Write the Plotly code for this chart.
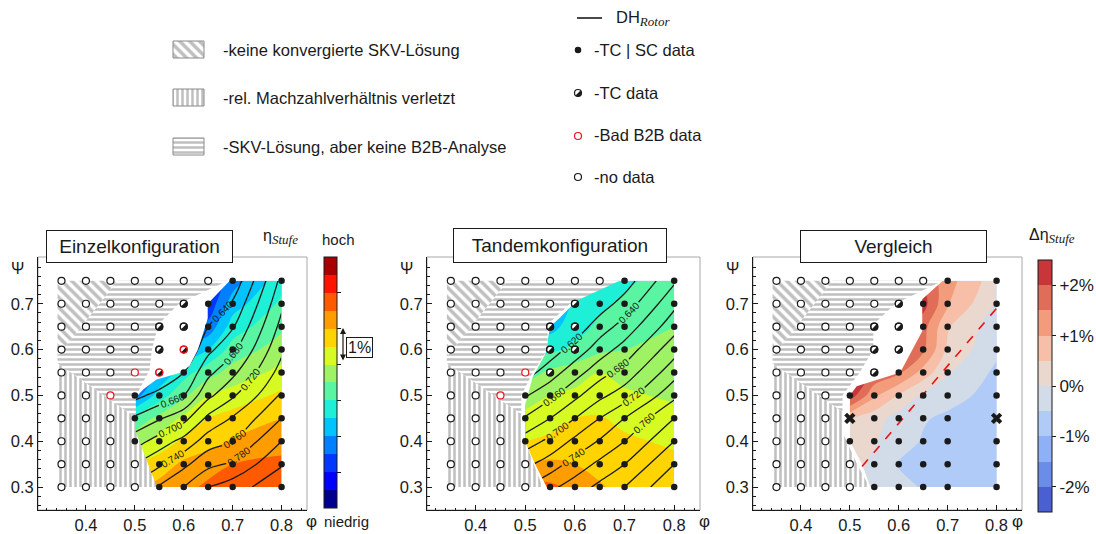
import math
import plotly.graph_objects as go

W, H = 1096, 534
FONT = "Liberation Sans, Arial, sans-serif"
INK = "#1a1a1a"
SUBSTYLE = "font-family:Liberation Serif;font-size:13px"

# ---------------- data ----------------
phi_pts = [0.35, 0.40, 0.45, 0.50, 0.55, 0.60, 0.65, 0.70, 0.80]
psi_pts = [0.75, 0.70, 0.65, 0.60, 0.55, 0.50, 0.45, 0.40, 0.35, 0.30]

# o = no data, r = bad B2B data, h = TC data, R = TC data + bad B2B, f = TC | SC data, x = marked
status_einzel = [
    "o o o o o o o f f",
    "o o o o o h f f f",
    "o o o o h h f f f",
    "o o o o h R f f f",
    "o o o r R f f f f",
    "o o r f f f f f f",
    "o o o f f f f f f",
    "o o o f f f f f f",
    "o o o o f f f f f",
    "o o o o f f f f f",
]
status_tandem = [
    "o o o o o o o f f",
    "o o o o o h f f f",
    "o o o o h h f f f",
    "o o o o h h f f f",
    "o o o r h f f f f",
    "o o r f f f f f f",
    "o o o f f f f f f",
    "o o o f f f f f f",
    "o o o o f f f f f",
    "o o o o f f f f f",
]
status_vergleich = [
    "o o o o o o o f f",
    "o o o o o h f f f",
    "o o o o h h f f f",
    "o o o o h h f f f",
    "o o o o h f f f f",
    "o o o f f f f f f",
    "o o o x f f f f x",
    "o o o f f f f f f",
    "o o o o f f f f f",
    "o o o o f f f f f",
]

phi_field = [0.50, 0.55, 0.60, 0.65, 0.70, 0.80]
psi_field = [0.30, 0.35, 0.40, 0.45, 0.50, 0.55, 0.60, 0.65, 0.70, 0.75]

eta_einzel = [  # eta_Stufe in %
    [87.90, 88.15, 88.35, 88.60, 88.70, 88.75],
    [87.50, 87.75, 88.10, 88.30, 88.50, 88.65],
    [86.80, 87.20, 87.60, 87.80, 88.05, 88.25],
    [86.15, 86.65, 87.10, 87.50, 87.70, 88.00],
    [84.75, 85.75, 86.40, 87.00, 87.20, 87.60],
    [84.25, 85.00, 85.80, 86.30, 86.70, 87.15],
    [84.00, 84.50, 85.10, 85.50, 86.20, 86.75],
    [83.75, 84.00, 84.50, 84.65, 85.75, 86.40],
    [83.50, 83.75, 84.00, 84.15, 85.25, 86.10],
    [83.25, 83.50, 83.75, 84.00, 84.75, 85.80],
]
eta_tandem = [
    [88.70, 88.60, 88.40, 88.05, 87.85, 87.75],
    [88.00, 88.10, 88.00, 87.85, 87.75, 87.65],
    [87.50, 87.60, 87.70, 87.75, 87.60, 87.40],
    [87.15, 87.30, 87.50, 87.55, 87.35, 87.20],
    [86.75, 87.00, 87.10, 87.20, 87.10, 86.90],
    [86.25, 86.60, 86.80, 87.00, 86.80, 86.70],
    [85.75, 85.90, 86.10, 86.40, 86.50, 86.65],
    [85.30, 85.30, 85.80, 86.10, 86.30, 86.50],
    [85.00, 85.00, 85.60, 85.90, 86.10, 86.40],
    [84.90, 85.00, 85.50, 85.70, 85.90, 86.25],
]
dh_einzel = [
    [0.745, 0.762, 0.780, 0.800, 0.810, 0.835],
    [0.720, 0.737, 0.755, 0.775, 0.783, 0.818],
    [0.691, 0.709, 0.727, 0.750, 0.760, 0.800],
    [0.663, 0.678, 0.693, 0.725, 0.742, 0.780],
    [0.634, 0.647, 0.660, 0.695, 0.717, 0.762],
    [0.600, 0.620, 0.640, 0.675, 0.695, 0.748],
    [0.570, 0.595, 0.620, 0.655, 0.675, 0.736],
    [0.540, 0.570, 0.600, 0.640, 0.658, 0.726],
    [0.510, 0.545, 0.580, 0.625, 0.642, 0.716],
    [0.480, 0.520, 0.560, 0.605, 0.625, 0.706],
]
dh_tandem = [
    [0.740, 0.755, 0.770, 0.785, 0.800, 0.838],
    [0.715, 0.730, 0.748, 0.765, 0.780, 0.820],
    [0.690, 0.705, 0.725, 0.742, 0.760, 0.800],
    [0.662, 0.680, 0.700, 0.720, 0.740, 0.780],
    [0.638, 0.655, 0.675, 0.695, 0.710, 0.755],
    [0.612, 0.630, 0.652, 0.672, 0.688, 0.732],
    [0.590, 0.610, 0.628, 0.650, 0.668, 0.712],
    [0.570, 0.590, 0.608, 0.630, 0.648, 0.692],
    [0.550, 0.570, 0.590, 0.610, 0.628, 0.675],
    [0.530, 0.550, 0.570, 0.590, 0.610, 0.657],
]
delta_eta = [  # Delta eta_Stufe in %
    [0.10, -0.20, -0.30, -0.55, -0.70, -0.80],
    [0.20, -0.10, -0.55, -0.60, -0.70, -0.80],
    [0.30, 0.05, -0.25, -0.55, -0.65, -0.80],
    [0.55, 0.20, -0.20, -0.45, -0.60, -0.80],
    [2.30, 1.10, 0.45, -0.10, -0.30, -0.70],
    [2.50, 1.95, 1.60, 0.80, 0.05, -0.60],
    [2.50, 2.30, 2.05, 1.60, 0.40, -0.40],
    [2.50, 2.30, 2.10, 1.70, 0.55, -0.30],
    [2.50, 2.40, 2.30, 2.20, 1.05, -0.05],
    [2.50, 2.30, 2.20, 1.95, 1.20, 0.20],
]

# outline of the evaluated (coloured) region per panel
field_phi_einzel = [0.543, 0.520, 0.500, 0.497, 0.497, 0.517, 0.544, 0.595, 0.612, 0.629, 0.649, 0.649, 0.694, 0.80, 0.80]
field_psi_einzel = [0.300, 0.350, 0.400, 0.440, 0.490, 0.513, 0.535, 0.550, 0.565, 0.600, 0.668, 0.700, 0.750, 0.75, 0.30]
field_phi_tandem = [0.543, 0.520, 0.499, 0.500, 0.515, 0.540, 0.550, 0.570, 0.616, 0.687, 0.80, 0.80]
field_psi_tandem = [0.300, 0.350, 0.400, 0.480, 0.540, 0.590, 0.650, 0.670, 0.720, 0.750, 0.75, 0.30]
field_phi_vergleich = [0.542, 0.525, 0.500, 0.500, 0.514, 0.603, 0.648, 0.648, 0.690, 0.80, 0.80]
field_psi_vergleich = [0.300, 0.350, 0.400, 0.500, 0.520, 0.550, 0.640, 0.710, 0.750, 0.75, 0.30]

# right-hand boundary of the hatched regions (top -> bottom)
hatch_phi_einzel = [0.69, 0.59, 0.548, 0.535, 0.530, 0.510, 0.502, 0.502, 0.545]
hatch_psi_einzel = [0.75, 0.70, 0.655, 0.600, 0.555, 0.515, 0.490, 0.420, 0.300]
hatch_phi_tandem = [0.69, 0.59, 0.545, 0.545, 0.515, 0.492, 0.492, 0.535]
hatch_psi_tandem = [0.75, 0.70, 0.655, 0.600, 0.550, 0.500, 0.420, 0.300]
hatch_phi_vergleich = [0.69, 0.593, 0.548, 0.548, 0.520, 0.485, 0.485, 0.515, 0.540]
hatch_psi_vergleich = [0.75, 0.700, 0.655, 0.600, 0.550, 0.500, 0.420, 0.350, 0.300]
hatch_left, hatch_bottom, hatch_top = 0.342, 0.30, 0.75
miter_phi, miter_psi = [0.342, 0.51], [0.57, 0.446]   # vertical | horizontal stripes
diag_phi, diag_psi = [0.342, 0.465], [0.585, 0.75]     # horizontal | diagonal stripes

trend_phi, trend_psi = [0.525, 0.80], [0.345, 0.69]

eta_colors = ["#00008f", "#0000ff", "#0038ff", "#0080ff", "#00c4ff", "#1ef0d8", "#5af5a2",
              "#9ef264", "#d6fa22", "#ffd400", "#ff9c00", "#ff5a00", "#ff1400", "#a80000"]
deta_colors = ["#4a5fd0", "#6a8ee8", "#8db0f7", "#b0cbf7", "#d2dbe8",
               "#ead8cf", "#f7bfa7", "#f29c7c", "#e06d57", "#c8363a"]
deta_ticks = [-2, -1, 0, 1, 2]
deta_ticktext = ["-2%", "-1%", "0%", "+1%", "+2%"]

# ---------------- layout geometry ----------------
X_RANGE = [0.302, 0.852]
Y_RANGE = [0.25, 0.802]
panel_px = [(38, 307), (427, 700), (753, 1022)]
PLOT_TOP, PLOT_BOT = 257, 510


def xp(px):
    return px / W


def yp(py):
    return 1 - py / H


def clip(poly, a, b, c):
    out = []
    n = len(poly)
    for i in range(n):
        p, q = poly[i], poly[(i + 1) % n]
        fp = a * p[0] + b * p[1] - c
        fq = a * q[0] + b * q[1] - c
        if fp <= 0:
            out.append(p)
        if (fp <= 0) != (fq <= 0):
            t = fp / (fp - fq)
            out.append((p[0] + t * (q[0] - p[0]), p[1] + t * (q[1] - p[1])))
    return out


def closed(poly):
    xs = [p[0] for p in poly] + [poly[0][0]]
    ys = [p[1] for p in poly] + [poly[0][1]]
    return xs, ys


def points(status, codes):
    xs, ys = [], []
    for r, row in enumerate(status):
        for c, code in enumerate(row.split()):
            if code in codes:
                xs.append(phi_pts[c])
                ys.append(psi_pts[r])
    return xs, ys


def half_discs(xs, ys, rx, ry, ydown=False):
    px, py = [], []
    for cx, cy in zip(xs, ys):
        for k in range(19):
            a = math.radians(45 - 10 * k)
            px.append(cx + rx * math.cos(a))
            py.append(cy + (-1 if ydown else 1) * ry * math.sin(a))
        px.append(None)
        py.append(None)
    return px, py


def label(x, y, text, size=16, **kw):
    d = dict(x=xp(x), y=yp(y), xref="paper", yref="paper", text=text, showarrow=False,
             xanchor="center", yanchor="middle", font=dict(size=size, family=FONT, color=INK))
    d.update(kw)
    return d


fig = go.Figure()
layout_axes = {}
shapes = []
annotations = []

panels = [
    dict(status=status_einzel, eta=eta_einzel, dh=dh_einzel,
         fphi=field_phi_einzel, fpsi=field_psi_einzel,
         hphi=hatch_phi_einzel, hpsi=hatch_psi_einzel, title="Einzelkonfiguration"),
    dict(status=status_tandem, eta=eta_tandem, dh=dh_tandem,
         fphi=field_phi_tandem, fpsi=field_psi_tandem,
         hphi=hatch_phi_tandem, hpsi=hatch_psi_tandem, title="Tandemkonfiguration"),
    dict(status=status_vergleich, eta=None, dh=None,
         fphi=field_phi_vergleich, fpsi=field_psi_vergleich,
         hphi=hatch_phi_vergleich, hpsi=hatch_psi_vergleich, title="Vergleich"),
]

m1 = (miter_psi[1] - miter_psi[0]) / (miter_phi[1] - miter_phi[0])
c_m = miter_psi[0] - m1 * miter_phi[0]
m2 = (diag_psi[1] - diag_psi[0]) / (diag_phi[1] - diag_phi[0])
c_d = diag_psi[0] - m2 * diag_phi[0]

PAT = "#bfbfbf"


def hatch_trace(xs, ys, shape, size, xa, ya, line=None):
    return go.Scatter(x=xs, y=ys, mode="lines", fill="toself", xaxis=xa, yaxis=ya,
                      line=line or dict(width=0, color="rgba(0,0,0,0)"),
                      fillcolor="white",
                      fillpattern=dict(shape=shape, fgcolor=PAT, bgcolor="white",
                                       size=size, solidity=0.5, fillmode="replace"),
                      hoverinfo="skip", showlegend=False)


for i, P in enumerate(panels):
    n = "" if i == 0 else str(i + 1)
    xa, ya = "x" + n, "y" + n
    x0, x1 = panel_px[i]
    rx = 3.6 * (X_RANGE[1] - X_RANGE[0]) / (x1 - x0)
    ry = 3.6 * (Y_RANGE[1] - Y_RANGE[0]) / (PLOT_BOT - PLOT_TOP)
    tick = dict(ticks="inside", ticklen=5, tickcolor=INK, tickwidth=1,
                showline=True, linecolor=INK, linewidth=1, showgrid=False, zeroline=False,
                tickfont=dict(size=16.5, family=FONT, color=INK), fixedrange=True,
                minor=dict(dtick=0.02, ticks="inside", ticklen=2.5, tickcolor=INK, showgrid=False))
    layout_axes["xaxis" + n] = dict(domain=[xp(x0), xp(x1)], range=X_RANGE, anchor=ya,
                                    tickvals=[0.4, 0.5, 0.6, 0.7, 0.8],
                                    ticktext=["0.4", "0.5", "0.6", "0.7", "0.8"], **tick)
    layout_axes["yaxis" + n] = dict(domain=[yp(PLOT_BOT), yp(PLOT_TOP)], range=Y_RANGE, anchor=xa,
                                    tickvals=[0.3, 0.4, 0.5, 0.6, 0.7],
                                    ticktext=["0.3", "0.4", "0.5", "0.6", "0.7"], **tick)
    shapes.append(dict(type="rect", xref=xa + " domain", yref=ya + " domain", x0=0, x1=1, y0=0, y1=1,
                       line=dict(color="#a8a8a8", width=1), layer="below"))

    # filled contour field
    if P["eta"] is not None:
        fig.add_trace(go.Contour(
            x=phi_field, y=psi_field, z=P["eta"], autocontour=False, xaxis=xa, yaxis=ya,
            contours=dict(start=83.5, end=89.5, size=0.5, coloring="fill", showlines=False),
            colorscale=[[j / (len(eta_colors) - 1), c] for j, c in enumerate(eta_colors)],
            line=dict(width=0), showscale=False, hoverinfo="skip"))
        fig.add_trace(go.Contour(
            x=phi_field, y=psi_field, z=P["dh"], autocontour=False, xaxis=xa, yaxis=ya,
            contours=dict(start=0.62, end=0.84, size=0.02, coloring="none", showlabels=True,
                          labelfont=dict(size=10, family=FONT, color=INK), labelformat=".3f"),
            line=dict(color=INK, width=1.3), showscale=False, hoverinfo="skip"))
    else:
        fig.add_trace(go.Contour(
            x=phi_field, y=psi_field, z=delta_eta, autocontour=False, xaxis=xa, yaxis=ya,
            contours=dict(start=-2.0, end=2.0, size=0.5, coloring="fill", showlines=False),
            colorscale=[[j / (len(deta_colors) - 1), c] for j, c in enumerate(deta_colors)],
            line=dict(width=0), showscale=False, hoverinfo="skip"))

    # white mask outside the evaluated region
    outer = [(0.49, 0.29), (0.81, 0.29), (0.81, 0.76), (0.49, 0.76), (0.49, 0.29)]
    inner = list(zip(P["fphi"], P["fpsi"]))
    ring = outer + inner + [inner[0], outer[0]]
    fig.add_trace(go.Scatter(x=[p[0] for p in ring], y=[p[1] for p in ring], mode="lines",
                             fill="toself", fillcolor="white", line=dict(width=0, color="white"),
                             xaxis=xa, yaxis=ya, hoverinfo="skip", showlegend=False))

    # hatched regions
    outline = [(hatch_left, hatch_bottom)] + list(zip(P["hphi"], P["hpsi"]))[::-1] + [(hatch_left, hatch_top)]
    vert = clip(outline, -m1, 1, c_m)
    rest = clip(outline, m1, -1, -c_m)
    diag = clip(rest, m2, -1, -c_d)
    horiz = clip(rest, -m2, 1, c_d)
    for poly, shp, sz in ((vert, "|", 5), (horiz, "-", 5), (diag, "\\", 7)):
        if len(poly) >= 3:
            xs, ys = closed(poly)
            fig.add_trace(hatch_trace(xs, ys, shp, sz, xa, ya))

    if i == 2:
        fig.add_trace(go.Scatter(x=trend_phi, y=trend_psi, mode="lines", xaxis=xa, yaxis=ya,
                                 line=dict(color="#ee1111", width=1.6, dash="dash"),
                                 hoverinfo="skip", showlegend=False))

    st = P["status"]
    xs, ys = points(st, "o")
    fig.add_trace(go.Scatter(x=xs, y=ys, mode="markers", xaxis=xa, yaxis=ya,
                             marker=dict(size=7, color="white", line=dict(color=INK, width=1.2)),
                             hoverinfo="skip", showlegend=False))
    xs, ys = points(st, "r")
    if xs:
        fig.add_trace(go.Scatter(x=xs, y=ys, mode="markers", xaxis=xa, yaxis=ya,
                                 marker=dict(size=7, color="white", line=dict(color="#e8141c", width=1.2)),
                                 hoverinfo="skip", showlegend=False))
    xs, ys = points(st, "hR")
    lc = [("#e8141c" if st[psi_pts.index(y)].split()[phi_pts.index(x)] == "R" else INK) for x, y in zip(xs, ys)]
    fig.add_trace(go.Scatter(x=xs, y=ys, mode="markers", xaxis=xa, yaxis=ya,
                             marker=dict(size=7, color="white", line=dict(color=lc, width=1.2)),
                             hoverinfo="skip", showlegend=False))
    hx, hy = half_discs(xs, ys, rx, ry)
    fig.add_trace(go.Scatter(x=hx, y=hy, mode="lines", fill="toself", fillcolor=INK,
                             line=dict(width=0, color=INK), xaxis=xa, yaxis=ya,
                             hoverinfo="skip", showlegend=False))
    fig.add_trace(go.Scatter(x=xs, y=ys, mode="markers", xaxis=xa, yaxis=ya,
                             marker=dict(size=7, color="rgba(0,0,0,0)", line=dict(color=lc, width=1.2)),
                             hoverinfo="skip", showlegend=False))
    xs, ys = points(st, "f")
    fig.add_trace(go.Scatter(x=xs, y=ys, mode="markers", xaxis=xa, yaxis=ya,
                             marker=dict(size=6.5, color=INK), hoverinfo="skip", showlegend=False))
    xs, ys = points(st, "x")
    if xs:
        fig.add_trace(go.Scatter(x=xs, y=ys, mode="markers", xaxis=xa, yaxis=ya,
                                 marker=dict(size=10, symbol="x", color=INK, line=dict(width=0)),
                                 hoverinfo="skip", showlegend=False))

    bx = [(46, 233, 230, 263), (453, 667, 228, 263), (800, 987, 230, 263)][i]
    annotations.append(label((bx[0] + bx[1]) / 2, (bx[2] + bx[3]) / 2, P["title"], size=19,
                             bgcolor="white", bordercolor=INK, borderwidth=1, borderpad=2,
                             width=bx[1] - bx[0] - 6, height=bx[3] - bx[2] - 6))
    annotations.append(label(x0 - 21, 268, "Ψ", size=16))
    annotations.append(label(x1 + (4 if i < 2 else -5), 521, "φ", size=17))

# ---------------- overlay axis for legend & colorbars ----------------
layout_axes["xaxis4"] = dict(domain=[0, 1], range=[0, W], visible=False, fixedrange=True, anchor="y4")
layout_axes["yaxis4"] = dict(domain=[0, 1], range=[H, 0], visible=False, fixedrange=True, anchor="x4")


def stepped(colors):
    n = len(colors)
    cs = []
    for j, c in enumerate(colors):
        cs.append([j / n, c])
        cs.append([(j + 1) / n, c])
    return cs


fig.add_trace(go.Scatter(x=[None], y=[None], mode="markers", xaxis="x4", yaxis="y4",
                         marker=dict(color=[86.0], cmin=83.0, cmax=90.0, colorscale=stepped(eta_colors),
                                     showscale=True,
                                     colorbar=dict(x=xp(324), xanchor="left", xpad=0, y=yp(257), yanchor="top",
                                                   ypad=0, len=251, lenmode="pixels", thickness=13,
                                                   outlinewidth=1, outlinecolor=INK,
                                                   tickvals=[84, 85, 86, 87, 88, 89], ticks="outside",
                                                   ticklen=4, tickcolor=INK, showticklabels=False)),
                         hoverinfo="skip", showlegend=False))
fig.add_trace(go.Scatter(x=[None], y=[None], mode="markers", xaxis="x4", yaxis="y4",
                         marker=dict(color=[0.0], cmin=-2.5, cmax=2.5, colorscale=stepped(deta_colors),
                                     showscale=True,
                                     colorbar=dict(x=xp(1038), xanchor="left", xpad=0, y=yp(260), yanchor="top",
                                                   ypad=0, len=252, lenmode="pixels", thickness=14,
                                                   outlinewidth=1, outlinecolor=INK,
                                                   tickvals=deta_ticks, ticktext=deta_ticktext,
                                                   ticks="outside", ticklen=4, tickcolor=INK,
                                                   tickfont=dict(size=17, family=FONT, color=INK))),
                         hoverinfo="skip", showlegend=False))

# legend: hatch swatches
legend_hatch = [("\\", 7, 41, 58, "-keine konvergierte SKV-Lösung", 50),
                ("|", 5, 89, 106, "-rel. Machzahlverhältnis verletzt", 98),
                ("-", 5, 138, 155, "-SKV-Lösung, aber keine B2B-Analyse", 147)]
for shp, sz, ytop, ybot, text, yc in legend_hatch:
    xs, ys = closed([(173, ytop), (204, ytop), (204, ybot), (173, ybot)])
    fig.add_trace(hatch_trace(xs, ys, shp, sz, "x4", "y4", line=dict(color="#8a8a8a", width=1)))
    annotations.append(label(221, yc, text, size=16.5, xanchor="left"))

# legend: right column
fig.add_trace(go.Scatter(x=[577, 602], y=[18, 18], mode="lines", xaxis="x4", yaxis="y4",
                         line=dict(color=INK, width=1.6), hoverinfo="skip", showlegend=False))
annotations.append(label(614, 19, f"DH<sub><span style='{SUBSTYLE}'><i>Rotor</i></span></sub>",
                         size=16.5, xanchor="left"))
fig.add_trace(go.Scatter(x=[578], y=[50], mode="markers", xaxis="x4", yaxis="y4",
                         marker=dict(size=6.5, color=INK), hoverinfo="skip", showlegend=False))
fig.add_trace(go.Scatter(x=[578], y=[93], mode="markers", xaxis="x4", yaxis="y4",
                         marker=dict(size=7, color="white", line=dict(color=INK, width=1.2)),
                         hoverinfo="skip", showlegend=False))
hx, hy = half_discs([578], [93], 3.6, 3.6, ydown=True)
fig.add_trace(go.Scatter(x=hx, y=hy, mode="lines", fill="toself", fillcolor=INK, line=dict(width=0, color=INK),
                         xaxis="x4", yaxis="y4", hoverinfo="skip", showlegend=False))
fig.add_trace(go.Scatter(x=[578], y=[136], mode="markers", xaxis="x4", yaxis="y4",
                         marker=dict(size=7, color="white", line=dict(color="#e8141c", width=1.2)),
                         hoverinfo="skip", showlegend=False))
fig.add_trace(go.Scatter(x=[578], y=[177], mode="markers", xaxis="x4", yaxis="y4",
                         marker=dict(size=7, color="white", line=dict(color=INK, width=1.2)),
                         hoverinfo="skip", showlegend=False))
for text, yc in (("-TC | SC data", 50), ("-TC data", 93), ("-Bad B2B data", 135), ("-no data", 177)):
    annotations.append(label(592, yc, text, size=16.5, xanchor="left"))

# colorbar captions
annotations += [
    label(280, 237, f"η<sub><span style='{SUBSTYLE}'><i>Stufe</i></span></sub>", size=16),
    label(338, 239, "hoch", size=15),
    label(346, 521, "niedrig", size=15),
    label(1052, 236, f"Δη<sub><span style='{SUBSTYLE}'><i>Stufe</i></span></sub>", size=16),
    label(359, 347, "1%", size=16, bordercolor=INK, borderwidth=1, borderpad=1),
    dict(x=xp(343), y=yp(328), xref="paper", yref="paper", text="", showarrow=True,
         ax=0, ay=34, arrowside="end+start", arrowhead=2, arrowsize=1, arrowwidth=1.2, arrowcolor=INK),
]

fig.update_layout(width=W, height=H, margin=dict(l=0, r=0, t=0, b=0),
                  paper_bgcolor="white", plot_bgcolor="rgba(0,0,0,0)",
                  showlegend=False, shapes=shapes, annotations=annotations,
                  font=dict(family=FONT, color=INK), **layout_axes)
fig.write_html("out.html")
